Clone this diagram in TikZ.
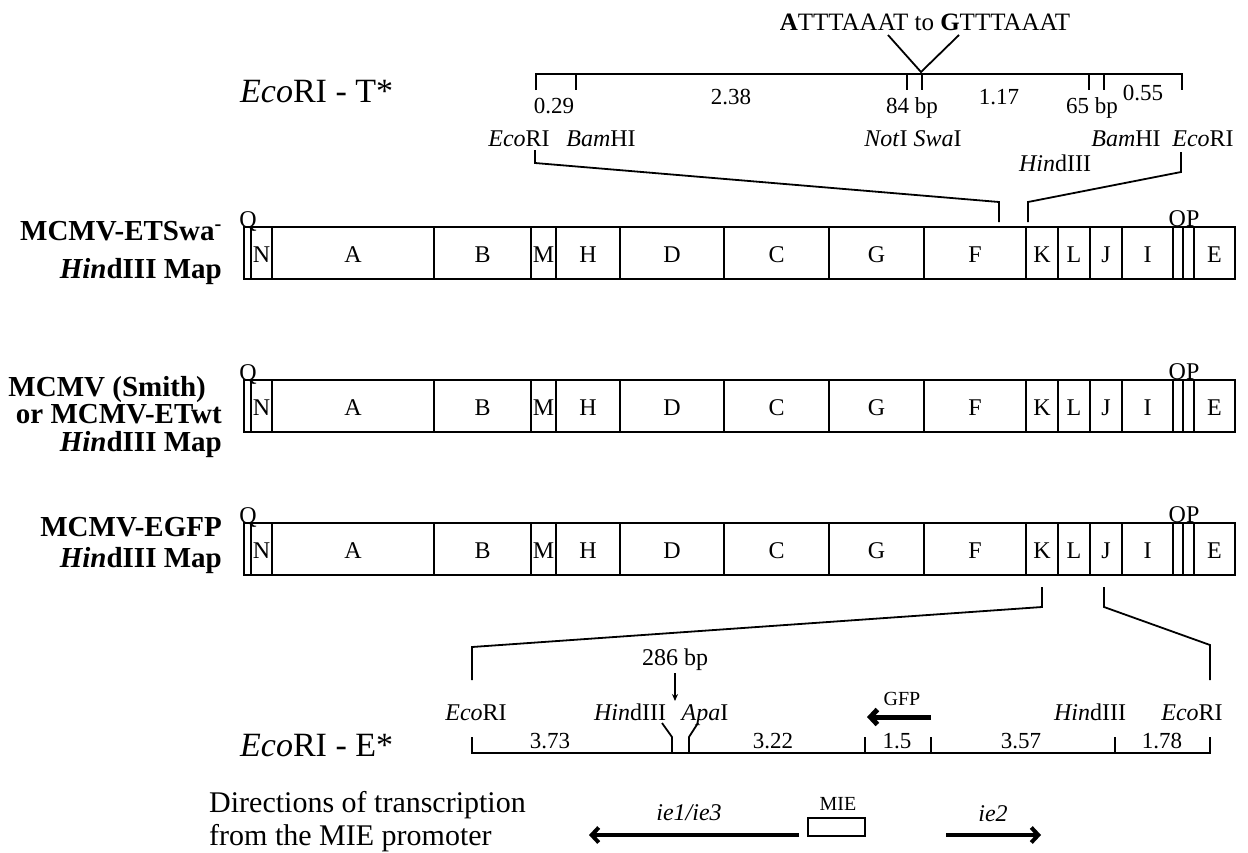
\documentclass[tikz,border=0pt]{standalone}
\usepackage{fontspec}
\setmainfont{Liberation Serif}
\usetikzlibrary{arrows.meta}
\newcommand\hmap[2]{%
  \foreach \a/\b/\l [count=\i] in {244/251/{},251/272/N,272/434/A,434/531/B,531/556/M,556/620/H,620/724/D,724/829/C,829/924/G,924/1026/F,1026/1058/K,1058/1090/L,1090/1122/J,1122/1173/I,1173/1183/{},1183/1194/{},1194/1235/E}{%
    \draw[boxl] (\a,#1) rectangle (\b,#1+52);
    \node[lett,anchor=base] (#2s\i) at ({(\a+\b)/2},#1+35) {\l};
  }%
  \node[lett,anchor=base] (#2Q) at (248,#1) {Q};
  \node[lett,anchor=base] (#2OP) at (1184,#1-1) {OP};
}
\begin{document}
\begin{tikzpicture}[x=1pt,y=-1pt,
  ln/.style={line width=1.8pt},
  thinln/.style={line width=1.4pt},
  boxl/.style={line width=1.8pt},
  lett/.style={font=\fontsize{24}{24}\selectfont, inner sep=0pt},
  num/.style={font=\fontsize{23}{23}\selectfont, inner sep=0pt, anchor=base},
  enz/.style={font=\fontsize{24}{24}\selectfont, inner sep=0pt, anchor=base},
  small/.style={font=\fontsize{20}{20}\selectfont, inner sep=0pt, anchor=base},
  big/.style={font=\fontsize{34}{34}\selectfont, inner sep=0pt, anchor=base west},
  lab/.style={font=\fontsize{29}{29}\selectfont\bfseries, inner sep=0pt, anchor=base east},
  dirt/.style={font=\fontsize{30}{30}\selectfont, inner sep=0pt, anchor=base west},
  fat/.style={line width=5pt},
  fatb/.style={line width=4pt},
  barb/.style={-{Straight Barb[length=7pt,width=15pt]}},
]
\useasboundingbox (0,0) rectangle (1248,852);

% ---------- EcoRI - T* ----------
\node[font=\fontsize{25}{25}\selectfont, inner sep=0pt] (seq) at (925,22) {\textbf{A}TTTAAAT to \textbf{G}TTTAAAT};
\coordinate (vl) at (888,35);
\coordinate (vr) at (959,35);
\coordinate (vb) at (921,72);
\draw[ln] (vl) -- (vb) -- (vr);

\node[big] (tlab) at (240,102) {\textit{Eco}RI - T*};

\coordinate (t0) at (536,74);
\coordinate (t1) at (1182,74);
\draw[ln] (536,90) -- (t0) -- (t1) -- (1182,90);
\foreach \x in {576,907,922,1089,1104} \draw[ln] (\x,74) -- (\x,90);

\node[num] (n029) at (554,113) {0.29};
\node[num] (n238) at (731,104) {2.38};
\node[num] (n84) at (912,113) {84 bp};
\node[num] (n117) at (999,104) {1.17};
\node[num] (n65) at (1092,113) {65 bp};
\node[num] (n055) at (1143,100) {0.55};

\node[enz] (te1) at (519,146) {\textit{Eco}RI};
\node[enz] (te2) at (601,146) {\textit{Bam}HI};
\node[enz] (te3) at (913,146) {\textit{Not}I \textit{Swa}I};
\node[enz] (te4) at (1126,146) {\textit{Bam}HI};
\node[enz] (te5) at (1203,146) {\textit{Eco}RI};
\node[enz] (te6) at (1055,171) {\textit{Hin}dIII};

\coordinate (c1a) at (535,150);
\coordinate (c1b) at (535,163);
\coordinate (c1c) at (999,202);
\coordinate (c1d) at (999,222);
\draw[ln] (c1a) -- (c1b) -- (c1c) -- (c1d);
\coordinate (c2a) at (1181,152);
\coordinate (c2b) at (1181,172);
\coordinate (c2c) at (1028,202);
\coordinate (c2d) at (1028,222);
\draw[ln] (c2a) -- (c2b) -- (c2c) -- (c2d);

% ---------- maps ----------
\hmap{227}{ma}
\hmap{380}{mb}
\hmap{523}{mc}

\node[lab] (l1a) at (222,240) {MCMV-ETSwa\textsuperscript{-}};
\node[lab] (l1b) at (222,278) {\textit{Hin}dIII Map};
\node[lab] (l2a) at (206,396) {MCMV (Smith)};
\node[lab] (l2b) at (222,423) {or MCMV-ETwt};
\node[lab] (l2c) at (222,451) {\textit{Hin}dIII Map};
\node[lab] (l3a) at (222,536) {MCMV-EGFP};
\node[lab] (l3b) at (222,567) {\textit{Hin}dIII Map};

% ---------- EcoRI - E* ----------
\coordinate (d1a) at (1042,587);
\coordinate (d1b) at (1042,607);
\coordinate (d1c) at (472,647);
\coordinate (d1d) at (472,680);
\draw[ln] (d1a) -- (d1b) -- (d1c) -- (d1d);
\coordinate (d2a) at (1104,587);
\coordinate (d2b) at (1104,607);
\coordinate (d2c) at (1210,645);
\coordinate (d2d) at (1210,680);
\draw[ln] (d2a) -- (d2b) -- (d2c) -- (d2d);

\node[enz] (bp) at (675,665) {286 bp};
\coordinate (bpt) at (675,673);
\coordinate (bpa) at (675,701);
\draw[thinln,-{Stealth[length=7pt,width=6pt]}] (bpt) -- (bpa);

\node[enz] (be1) at (476,720) {\textit{Eco}RI};
\node[enz] (be2) at (630,720) {\textit{Hin}dIII};
\node[enz] (be3) at (705,720) {\textit{Apa}I};
\node[enz] (be4) at (1090,720) {\textit{Hin}dIII};
\node[enz] (be5) at (1192,720) {\textit{Eco}RI};
\node[small] (gfp) at (902,705) {GFP};
\coordinate (g0) at (931,717);
\coordinate (g1) at (867,717);
\draw[fat,barb] (g0) -- (g1);

\node[big] (elab) at (240,756) {\textit{Eco}RI - E*};

\coordinate (e0) at (472,753);
\coordinate (e1) at (1210,753);
\draw[ln] (472,737) -- (e0) -- (e1) -- (1210,737);
\foreach \x in {865,931,1115} \draw[ln] (\x,737) -- (\x,753);
\draw[ln] (662,723) -- (672,737) -- (672,753);
\draw[ln] (698,723) -- (689,737) -- (689,753);

\node[num] (m1) at (550,748) {3.73};
\node[num] (m2) at (773,748) {3.22};
\node[num] (m3) at (897,748) {1.5};
\node[num] (m4) at (1021,748) {3.57};
\node[num] (m5) at (1162,748) {1.78};

% ---------- transcription ----------
\node[dirt] (dir1) at (209,812) {Directions of transcription};
\node[dirt] (dir2) at (209,845) {from the MIE promoter};

\node[draw, line width=1.6pt, minimum width=57pt, minimum height=18pt, inner sep=0pt] (mie) at (836.5,827) {};
\node[small] (miet) at (838,810) {MIE};
\coordinate (a1s) at (799,835);
\coordinate (a1e) at (589,835);
\draw[fatb,barb] (a1s) -- (a1e);
\node[enz] (ie13) at (689,820) {\textit{ie1/ie3}};
\coordinate (a2s) at (946,835);
\coordinate (a2e) at (1041,835);
\draw[fatb,barb] (a2s) -- (a2e);
\node[enz] (ie2) at (993,821) {\textit{ie2}};
\end{tikzpicture}
\end{document}
